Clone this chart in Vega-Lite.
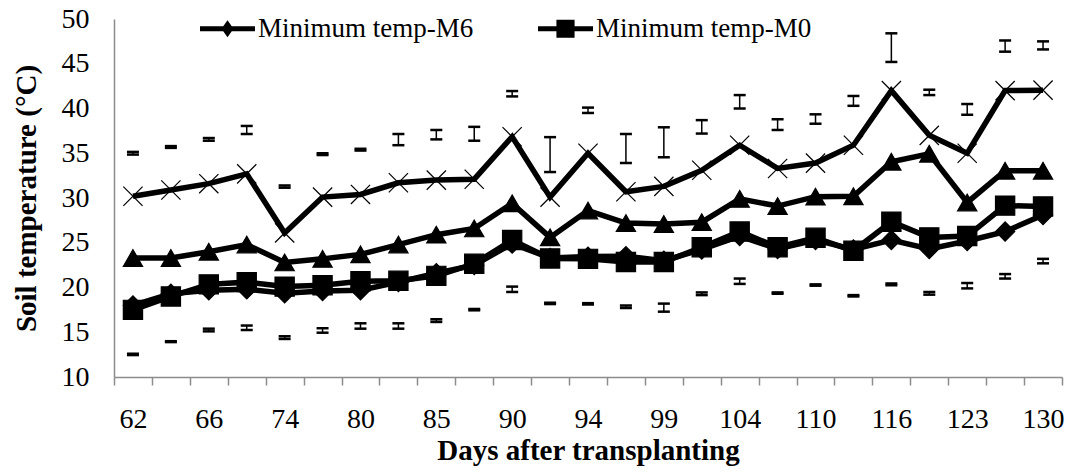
{
  "$schema": "https://vega.github.io/schema/vega-lite/v6.json",
  "width": 948,
  "height": 358,
  "autosize": {"type": "none"},
  "padding": {"left": 114, "top": 19, "right": 6, "bottom": 95},
  "background": "white",
  "datasets": {
    "temps": [
      {"day": 62, "series": "Minimum temp-M6", "value": 18.0},
      {"day": 64, "series": "Minimum temp-M6", "value": 19.3},
      {"day": 66, "series": "Minimum temp-M6", "value": 19.7},
      {"day": 70, "series": "Minimum temp-M6", "value": 19.8},
      {"day": 74, "series": "Minimum temp-M6", "value": 19.35},
      {"day": 77, "series": "Minimum temp-M6", "value": 19.6},
      {"day": 80, "series": "Minimum temp-M6", "value": 19.7},
      {"day": 83, "series": "Minimum temp-M6", "value": 20.6},
      {"day": 85, "series": "Minimum temp-M6", "value": 21.6},
      {"day": 88, "series": "Minimum temp-M6", "value": 22.5},
      {"day": 90, "series": "Minimum temp-M6", "value": 24.9},
      {"day": 92, "series": "Minimum temp-M6", "value": 23.3},
      {"day": 94, "series": "Minimum temp-M6", "value": 23.45},
      {"day": 96, "series": "Minimum temp-M6", "value": 23.5},
      {"day": 99, "series": "Minimum temp-M6", "value": 23.0},
      {"day": 101, "series": "Minimum temp-M6", "value": 24.25},
      {"day": 104, "series": "Minimum temp-M6", "value": 25.75},
      {"day": 107, "series": "Minimum temp-M6", "value": 24.3},
      {"day": 110, "series": "Minimum temp-M6", "value": 25.3},
      {"day": 113, "series": "Minimum temp-M6", "value": 24.25},
      {"day": 116, "series": "Minimum temp-M6", "value": 25.3},
      {"day": 120, "series": "Minimum temp-M6", "value": 24.3},
      {"day": 123, "series": "Minimum temp-M6", "value": 25.2},
      {"day": 127, "series": "Minimum temp-M6", "value": 26.25},
      {"day": 130, "series": "Minimum temp-M6", "value": 28.1},
      {"day": 62, "series": "Minimum temp-M0", "value": 17.5},
      {"day": 64, "series": "Minimum temp-M0", "value": 19.0},
      {"day": 66, "series": "Minimum temp-M0", "value": 20.35},
      {"day": 70, "series": "Minimum temp-M0", "value": 20.6},
      {"day": 74, "series": "Minimum temp-M0", "value": 20.1},
      {"day": 77, "series": "Minimum temp-M0", "value": 20.25},
      {"day": 80, "series": "Minimum temp-M0", "value": 20.7},
      {"day": 83, "series": "Minimum temp-M0", "value": 20.75},
      {"day": 85, "series": "Minimum temp-M0", "value": 21.3},
      {"day": 88, "series": "Minimum temp-M0", "value": 22.65},
      {"day": 90, "series": "Minimum temp-M0", "value": 25.3},
      {"day": 92, "series": "Minimum temp-M0", "value": 23.25},
      {"day": 94, "series": "Minimum temp-M0", "value": 23.2},
      {"day": 96, "series": "Minimum temp-M0", "value": 22.85},
      {"day": 99, "series": "Minimum temp-M0", "value": 22.85},
      {"day": 101, "series": "Minimum temp-M0", "value": 24.5},
      {"day": 104, "series": "Minimum temp-M0", "value": 26.25},
      {"day": 107, "series": "Minimum temp-M0", "value": 24.5},
      {"day": 110, "series": "Minimum temp-M0", "value": 25.55},
      {"day": 113, "series": "Minimum temp-M0", "value": 24.1},
      {"day": 116, "series": "Minimum temp-M0", "value": 27.35},
      {"day": 120, "series": "Minimum temp-M0", "value": 25.6},
      {"day": 123, "series": "Minimum temp-M0", "value": 25.75},
      {"day": 127, "series": "Minimum temp-M0", "value": 29.15},
      {"day": 130, "series": "Minimum temp-M0", "value": 29.05},
      {"day": 62, "series": "Series 3", "value": 23.3},
      {"day": 64, "series": "Series 3", "value": 23.3},
      {"day": 66, "series": "Series 3", "value": 24.0},
      {"day": 70, "series": "Series 3", "value": 24.8},
      {"day": 74, "series": "Series 3", "value": 22.8},
      {"day": 77, "series": "Series 3", "value": 23.2},
      {"day": 80, "series": "Series 3", "value": 23.7},
      {"day": 83, "series": "Series 3", "value": 24.8},
      {"day": 85, "series": "Series 3", "value": 25.9},
      {"day": 88, "series": "Series 3", "value": 26.6},
      {"day": 90, "series": "Series 3", "value": 29.4},
      {"day": 92, "series": "Series 3", "value": 25.6},
      {"day": 94, "series": "Series 3", "value": 28.6},
      {"day": 96, "series": "Series 3", "value": 27.2},
      {"day": 99, "series": "Series 3", "value": 27.1},
      {"day": 101, "series": "Series 3", "value": 27.3},
      {"day": 104, "series": "Series 3", "value": 29.9},
      {"day": 107, "series": "Series 3", "value": 29.1},
      {"day": 110, "series": "Series 3", "value": 30.15},
      {"day": 113, "series": "Series 3", "value": 30.2},
      {"day": 116, "series": "Series 3", "value": 34.05},
      {"day": 120, "series": "Series 3", "value": 34.95},
      {"day": 123, "series": "Series 3", "value": 29.5},
      {"day": 127, "series": "Series 3", "value": 33.05},
      {"day": 130, "series": "Series 3", "value": 33.05},
      {"day": 62, "series": "Series 4", "value": 30.2},
      {"day": 64, "series": "Series 4", "value": 30.9},
      {"day": 66, "series": "Series 4", "value": 31.6},
      {"day": 70, "series": "Series 4", "value": 32.7},
      {"day": 74, "series": "Series 4", "value": 26.1},
      {"day": 77, "series": "Series 4", "value": 30.1},
      {"day": 80, "series": "Series 4", "value": 30.4},
      {"day": 83, "series": "Series 4", "value": 31.7},
      {"day": 85, "series": "Series 4", "value": 32.0},
      {"day": 88, "series": "Series 4", "value": 32.1},
      {"day": 90, "series": "Series 4", "value": 36.85},
      {"day": 92, "series": "Series 4", "value": 30.1},
      {"day": 94, "series": "Series 4", "value": 35.0},
      {"day": 96, "series": "Series 4", "value": 30.7},
      {"day": 99, "series": "Series 4", "value": 31.3},
      {"day": 101, "series": "Series 4", "value": 33.1},
      {"day": 104, "series": "Series 4", "value": 35.9},
      {"day": 107, "series": "Series 4", "value": 33.3},
      {"day": 110, "series": "Series 4", "value": 33.9},
      {"day": 113, "series": "Series 4", "value": 35.9},
      {"day": 116, "series": "Series 4", "value": 42.0},
      {"day": 120, "series": "Series 4", "value": 37.0},
      {"day": 123, "series": "Series 4", "value": 35.0},
      {"day": 127, "series": "Series 4", "value": 42.0},
      {"day": 130, "series": "Series 4", "value": 42.05}
    ],
    "errs": [
      {"day": 62, "bar": "upper", "low": 34.85, "high": 35.15},
      {"day": 64, "bar": "upper", "low": 35.6, "high": 35.8},
      {"day": 66, "bar": "upper", "low": 36.4, "high": 36.7},
      {"day": 70, "bar": "upper", "low": 37.15, "high": 38.05},
      {"day": 74, "bar": "upper", "low": 31.15, "high": 31.4},
      {"day": 77, "bar": "upper", "low": 34.8, "high": 35.0},
      {"day": 80, "bar": "upper", "low": 35.3, "high": 35.5},
      {"day": 83, "bar": "upper", "low": 35.9, "high": 37.15},
      {"day": 85, "bar": "upper", "low": 36.55, "high": 37.6},
      {"day": 88, "bar": "upper", "low": 36.4, "high": 37.95},
      {"day": 90, "bar": "upper", "low": 41.35, "high": 41.95},
      {"day": 92, "bar": "upper", "low": 32.9, "high": 36.8},
      {"day": 94, "bar": "upper", "low": 39.5, "high": 40.1},
      {"day": 96, "bar": "upper", "low": 33.9, "high": 37.15},
      {"day": 99, "bar": "upper", "low": 34.55, "high": 37.9},
      {"day": 101, "bar": "upper", "low": 37.2, "high": 38.7},
      {"day": 104, "bar": "upper", "low": 40.0, "high": 41.5},
      {"day": 107, "bar": "upper", "low": 37.6, "high": 38.8},
      {"day": 110, "bar": "upper", "low": 38.3, "high": 39.35},
      {"day": 113, "bar": "upper", "low": 40.3, "high": 41.4},
      {"day": 116, "bar": "upper", "low": 45.2, "high": 48.4},
      {"day": 120, "bar": "upper", "low": 41.5, "high": 42.1},
      {"day": 123, "bar": "upper", "low": 39.3, "high": 40.5},
      {"day": 127, "bar": "upper", "low": 46.35, "high": 47.6},
      {"day": 130, "bar": "upper", "low": 46.6, "high": 47.5},
      {"day": 62, "bar": "lower", "low": 12.45, "high": 12.6},
      {"day": 64, "bar": "lower", "low": 13.9, "high": 14.0},
      {"day": 66, "bar": "lower", "low": 15.1, "high": 15.4},
      {"day": 70, "bar": "lower", "low": 15.25, "high": 15.75},
      {"day": 74, "bar": "lower", "low": 14.25, "high": 14.55},
      {"day": 77, "bar": "lower", "low": 14.95, "high": 15.45},
      {"day": 80, "bar": "lower", "low": 15.4, "high": 16.0},
      {"day": 83, "bar": "lower", "low": 15.4, "high": 16.0},
      {"day": 85, "bar": "lower", "low": 16.15, "high": 16.45},
      {"day": 88, "bar": "lower", "low": 17.45, "high": 17.6},
      {"day": 90, "bar": "lower", "low": 19.5, "high": 20.1},
      {"day": 92, "bar": "lower", "low": 18.15, "high": 18.3},
      {"day": 94, "bar": "lower", "low": 18.1, "high": 18.25},
      {"day": 96, "bar": "lower", "low": 17.7, "high": 18.0},
      {"day": 99, "bar": "lower", "low": 17.3, "high": 18.2},
      {"day": 101, "bar": "lower", "low": 19.15, "high": 19.45},
      {"day": 104, "bar": "lower", "low": 20.4, "high": 21.0},
      {"day": 107, "bar": "lower", "low": 19.3, "high": 19.45},
      {"day": 110, "bar": "lower", "low": 20.2, "high": 20.35},
      {"day": 113, "bar": "lower", "low": 19.0, "high": 19.15},
      {"day": 116, "bar": "lower", "low": 20.25, "high": 20.45},
      {"day": 120, "bar": "lower", "low": 19.2, "high": 19.5},
      {"day": 123, "bar": "lower", "low": 19.9, "high": 20.5},
      {"day": 127, "bar": "lower", "low": 21.0, "high": 21.5},
      {"day": 130, "bar": "lower", "low": 22.7, "high": 23.2}
    ]
  },
  "encoding": {
    "x": {
      "field": "day",
      "type": "ordinal",
      "scale": {"type": "band", "paddingInner": 0, "paddingOuter": 0},
      "axis": {
        "title": "Days after transplanting",
        "labelAngle": 0,
        "tickBand": "extent",
        "tickSize": 8,
        "labelPadding": 20,
        "titlePadding": 3,
        "labelExpr": "indexof([62,66,74,80,85,90,94,99,104,110,116,123,130], datum.value) >= 0 ? datum.label : ''"
      }
    }
  },
  "layer": [
    {
      "data": {"name": "errs"},
      "mark": {"type": "rule", "color": "black", "strokeWidth": 1.5},
      "encoding": {
        "y": {"field": "low", "type": "quantitative", "title": "Soil temperature (°C)", "scale": {"domain": [10, 50], "nice": false, "zero": false}, "axis": {"values": [10, 15, 20, 25, 30, 35, 40, 45, 50]}},
        "y2": {"field": "high"}
      }
    },
    {
      "data": {"name": "errs"},
      "mark": {"type": "tick", "color": "black", "size": 12, "thickness": 2.5, "opacity": 1},
      "encoding": {
        "y": {"field": "low", "type": "quantitative", "title": "Soil temperature (°C)"}
      }
    },
    {
      "data": {"name": "errs"},
      "mark": {"type": "tick", "color": "black", "size": 12, "thickness": 2.5, "opacity": 1},
      "encoding": {
        "y": {"field": "high", "type": "quantitative", "title": "Soil temperature (°C)"}
      }
    },
    {
      "data": {"name": "temps"},
      "mark": {"type": "line", "color": "black", "strokeWidth": 5.5},
      "encoding": {
        "y": {"field": "value", "type": "quantitative", "title": "Soil temperature (°C)"},
        "detail": {"field": "series"}
      }
    },
    {
      "data": {"name": "temps"},
      "mark": {"type": "point", "filled": true, "fill": "black", "stroke": "black", "strokeWidth": 1.2, "size": 370, "opacity": 1},
      "encoding": {
        "y": {"field": "value", "type": "quantitative", "title": "Soil temperature (°C)"},
        "shape": {
          "field": "series",
          "type": "nominal",
          "scale": {
            "domain": ["Minimum temp-M6", "Minimum temp-M0", "Series 3", "Series 4"],
            "range": ["diamond", "square", "triangle-up", "M-1,-1L1,1M-1,1L1,-1"]
          },
          "legend": null
        }
      }
    },
    {
      "data": {"name": "temps"},
      "transform": [{"filter": {"field": "series", "oneOf": ["Minimum temp-M6", "Minimum temp-M0"]}}],
      "mark": {"type": "point", "filled": true, "color": "black", "size": 10, "opacity": 0},
      "encoding": {
        "y": {"field": "value", "type": "quantitative", "title": "Soil temperature (°C)"},
        "shape": {
          "field": "series",
          "type": "nominal",
          "scale": {
            "domain": ["Minimum temp-M6", "Minimum temp-M0"],
            "range": [
              "M-1,-0.09L1,-0.09L1,0.09L-1,0.09Z M0,-0.31L0.22,0L0,0.31L-0.22,0Z",
              "M-1,-0.09L1,-0.09L1,0.09L-1,0.09Z M-0.33,-0.33L0.33,-0.33L0.33,0.33L-0.33,0.33Z"
            ]
          },
          "legend": {
            "orient": "none",
            "direction": "horizontal",
            "legendX": 86,
            "legendY": -18,
            "title": null,
            "values": ["Minimum temp-M6", "Minimum temp-M0"],
            "symbolSize": 3025,
            "symbolFillColor": "black",
            "symbolStrokeWidth": 0,
            "symbolOpacity": 1,
            "labelFont": "Times New Roman, Liberation Serif, serif",
            "labelFontSize": 27,
            "labelColor": "black",
            "labelOffset": 3,
            "labelLimit": 400,
            "columnPadding": 64
          }
        }
      }
    }
  ],
  "resolve": {"scale": {"shape": "independent"}, "legend": {"shape": "independent"}},
  "config": {
    "font": "Times New Roman, Liberation Serif, serif",
    "view": {"stroke": null},
    "axis": {
      "grid": false,
      "labelFont": "Times New Roman, Liberation Serif, serif",
      "titleFont": "Times New Roman, Liberation Serif, serif",
      "labelColor": "black",
      "titleColor": "black",
      "labelFontSize": 28,
      "titleFontSize": 29,
      "titleFontWeight": "bold",
      "domainColor": "#8c8c8c",
      "tickColor": "#8c8c8c",
      "domainWidth": 1.5,
      "tickWidth": 1.5
    },
    "axisY": {"ticks": false, "labelPadding": 25, "titlePadding": 20}
  }
}
